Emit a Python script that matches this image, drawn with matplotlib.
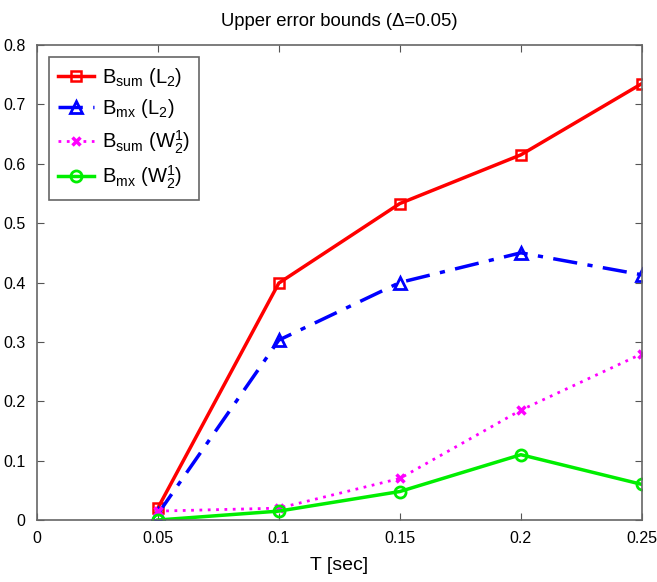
import matplotlib
matplotlib.use('Agg')
import matplotlib.pyplot as plt

plt.rcParams['font.family'] = ['Liberation Sans', 'DejaVu Sans']
plt.rcParams['mathtext.default'] = 'regular'

# data
T = [0.05, 0.1, 0.15, 0.2, 0.25]
bsum_l2 = [0.02, 0.399, 0.533, 0.615, 0.735]
bmx_l2 = [0.01, 0.303, 0.40, 0.45, 0.413]
bsum_w = [0.015, 0.02, 0.07, 0.185, 0.28]
bmx_w = [0.0, 0.015, 0.048, 0.11, 0.06]

fig = plt.figure(figsize=(6.57, 5.82), dpi=100)
ax = fig.add_axes([0.056, 0.1065, 0.921, 0.8162])

ax.plot(T, bsum_l2, color='#ff0000', lw=2.5, marker='s', ms=6.5, mfc='none', mew=1.8,
        label='B$_{sum}$ (L$_2$)')
ax.plot(T, bmx_l2, color='#0000ff', lw=2.5, marker='^', ms=9, mfc='none', mew=2,
        dashes=(7, 3, 1.5, 3), label='B$_{mx}$ (L$_2$)')
ax.plot(T, bsum_w, color='#ff00ff', lw=2, marker='x', ms=6, mew=2.5,
        linestyle=(0, (1, 2)), label='B$_{sum}$ (W$_2^1$)')
ax.plot(T, bmx_w, color='#00ee00', lw=2.5, marker='o', ms=8, mfc='none', mew=2,
        label='B$_{mx}$ (W$_2^1$)')

ax.set_xlim(0, 0.25)
ax.set_ylim(0, 0.8)
ax.set_xticks([0, 0.05, 0.1, 0.15, 0.2, 0.25])
ax.set_xticklabels(['0', '0.05', '0.1', '0.15', '0.2', '0.25'])
ax.set_yticks([0, 0.1, 0.2, 0.3, 0.4, 0.5, 0.6, 0.7, 0.8])
ax.set_yticklabels(['0', '0.1', '0.2', '0.3', '0.4', '0.5', '0.6', '0.7', '0.8'])
ax.tick_params(direction='in', top=True, right=True, length=5, color='#555555',
               labelsize=11.5, pad=8)
for s in ax.spines.values():
    s.set_color('#666666')
    s.set_linewidth(1.2)

ax.set_xlabel('T [sec]', fontsize=14, labelpad=8)
ax.set_title('Upper error bounds (\u0394=0.05)', fontsize=13.3, pad=14)

leg = ax.legend(loc='upper left', fontsize=14.5, fancybox=False, framealpha=1,
                edgecolor='#666666', handlelength=1.8, borderaxespad=0.6,
                labelspacing=0.4, handletextpad=0.4, borderpad=0.45)
leg.get_frame().set_linewidth(1.2)

fig.savefig('out.png', dpi=100)
